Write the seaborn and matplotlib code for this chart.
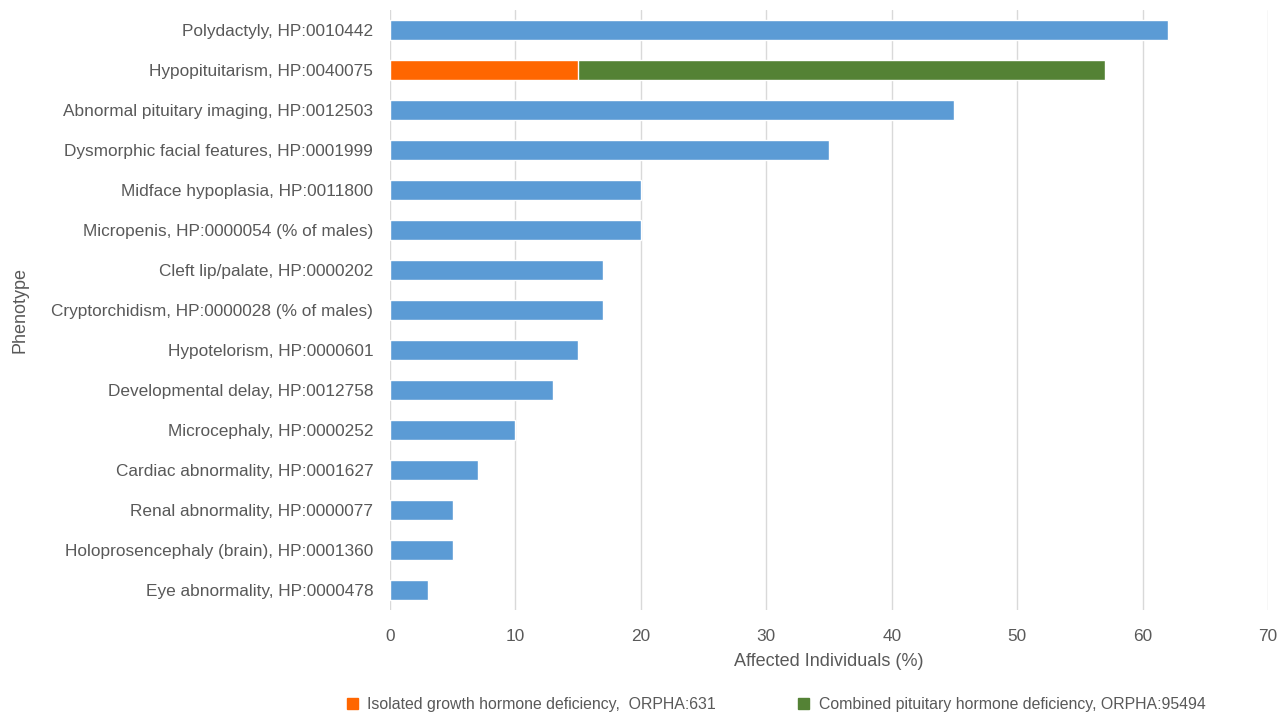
import matplotlib
matplotlib.use('Agg')
import matplotlib.pyplot as plt
import pandas as pd
import seaborn as sns
from matplotlib.patches import Patch

phenotypes = [
    'Polydactyly, HP:0010442',
    'Hypopituitarism, HP:0040075',
    'Abnormal pituitary imaging, HP:0012503',
    'Dysmorphic facial features, HP:0001999',
    'Midface hypoplasia, HP:0011800',
    'Micropenis, HP:0000054 (% of males)',
    'Cleft lip/palate, HP:0000202',
    'Cryptorchidism, HP:0000028 (% of males)',
    'Hypotelorism, HP:0000601',
    'Developmental delay, HP:0012758',
    'Microcephaly, HP:0000252',
    'Cardiac abnormality, HP:0001627',
    'Renal abnormality, HP:0000077',
    'Holoprosencephaly (brain), HP:0001360',
    'Eye abnormality, HP:0000478',
]
affected = [62, None, 45, 35, 20, 20, 17, 17, 15, 13, 10, 7, 5, 5, 3]
isolated_ghd = 15      # Hypopituitarism, orange part
combined_phd = 57      # Hypopituitarism, total end of green part

blue = '#5b9bd5'
orange = '#ff6600'
green = '#548235'
grey_text = '#595959'

sns.set_theme(style='white')
plt.rcParams['font.family'] = ['Liberation Sans', 'DejaVu Sans']

df = pd.DataFrame({'Phenotype': phenotypes, 'Affected': affected})
hypo = pd.DataFrame({'Phenotype': ['Hypopituitarism, HP:0040075'],
                     'Combined': [combined_phd], 'Isolated': [isolated_ghd]})

fig = plt.figure(figsize=(12.88, 7.14), dpi=100)
ax = fig.add_axes([0.3028, 0.1457, 0.6817, 0.8403])

sns.barplot(data=df, y='Phenotype', x='Affected', order=phenotypes, color=blue,
            width=0.5, saturation=1, orient='h', ax=ax)
sns.barplot(data=hypo, y='Phenotype', x='Combined', order=phenotypes, color=green,
            width=0.5, saturation=1, orient='h', ax=ax)
sns.barplot(data=hypo, y='Phenotype', x='Isolated', order=phenotypes, color=orange,
            width=0.5, saturation=1, orient='h', ax=ax)

ax.set_xlim(0, 70)
ax.set_ylim(len(phenotypes) - 0.5, -0.5)
ax.set_xticks(range(0, 71, 10))
ax.grid(axis='x', color='#d9d9d9', linewidth=1)
ax.set_axisbelow(True)
for s in ax.spines.values():
    s.set_visible(False)
ax.tick_params(axis='both', length=0, labelsize=12.4, labelcolor=grey_text)
ax.tick_params(axis='x', pad=14)
ax.tick_params(axis='y', pad=12)
ax.set_xlabel('Affected Individuals (%)', fontsize=13, color=grey_text, labelpad=6)
ax.set_ylabel('Phenotype', fontsize=13, color=grey_text)
ax.yaxis.set_label_coords(-0.412, 0.5)

handles = [Patch(color=orange, label='Isolated growth hormone deficiency,  ORPHA:631'),
           Patch(color=green, label='Combined pituitary hormone deficiency, ORPHA:95494')]
fig.legend(handles=handles, loc='center', bbox_to_anchor=(0.6025, 0.013), ncol=2,
           frameon=False, fontsize=11.4, labelcolor=grey_text, handlelength=0.7,
           handleheight=0.7, columnspacing=5.2, handletextpad=0.6)

fig.savefig('out.png', dpi=100)
